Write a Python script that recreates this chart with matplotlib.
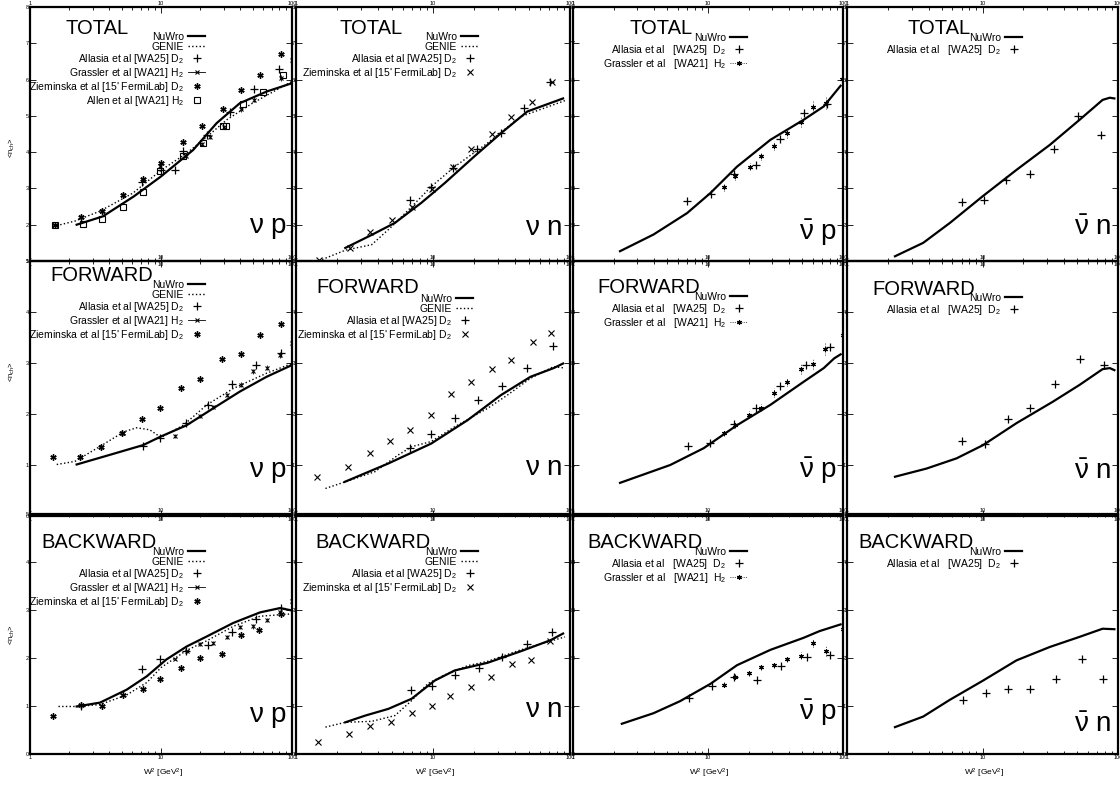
import matplotlib.pyplot as plt
from matplotlib.lines import Line2D
from matplotlib.ticker import NullFormatter

plt.rcParams['font.family'] = ['Liberation Sans Narrow', 'Liberation Sans', 'DejaVu Sans']
plt.rcParams['mathtext.default'] = 'regular'

# ---------------- data (W^2 in GeV^2, <n_ch>) ----------------
# TOTAL, nu p
tvp_nuwro_w = [2.27, 3.6, 6.2, 10, 17.6, 26.6, 40, 64, 100]
tvp_nuwro_n = [2.0, 2.23, 2.78, 3.33, 4.06, 4.8, 5.35, 5.67, 5.9]
tvp_genie_w = [1.5, 2.2, 3.4, 6.1, 10, 15.7, 22, 32, 50, 100]
tvp_genie_n = [1.95, 2.1, 2.37, 2.87, 3.5, 3.97, 4.4, 4.9, 5.35, 5.95]
tvp_allasia_w = [7.1, 10, 12.8, 14.8, 22.4, 33.6, 51, 79]
tvp_allasia_n = [3.17, 3.51, 3.51, 4.02, 4.48, 5.1, 5.73, 6.28]
tvp_grassler_w = [2.45, 3.56, 5.15, 7.25, 9.9, 15.5, 20.4, 23.5, 30.5, 40.6, 51, 82, 100]
tvp_grassler_n = [2.2, 2.38, 2.83, 3.22, 3.62, 3.88, 4.22, 4.42, 4.7, 5.18, 5.45, 6.05, 6.55]
tvp_grassler_e = [0.04, 0.04, 0.04, 0.05, 0.05, 0.05, 0.05, 0.06, 0.06, 0.07, 0.07, 0.08, 0.12]
tvp_ziem_w = [1.55, 2.45, 3.56, 5.15, 7.25, 10, 14.7, 20.4, 29.5, 40.6, 57, 82]
tvp_ziem_n = [2.0, 2.22, 2.39, 2.83, 3.26, 3.7, 4.29, 4.71, 5.2, 5.7, 6.13, 6.71]
tvp_allen_w = [1.55, 2.52, 3.56, 5.15, 7.25, 9.9, 14.8, 20.8, 29.5, 31.5, 42.5, 60, 86]
tvp_allen_n = [1.98, 2.03, 2.16, 2.49, 2.9, 3.49, 3.88, 4.25, 4.73, 4.72, 5.33, 5.65, 6.13]

# TOTAL, nu n
tvn_nuwro_w = [2.29, 3.57, 5.27, 8.2, 12.2, 20, 31.3, 48.8, 89]
tvn_nuwro_n = [1.36, 1.72, 2.05, 2.6, 3.15, 3.88, 4.52, 5.12, 5.48]
tvn_genie_w = [1.55, 2.3, 3.57, 5.0, 7.0, 9.7, 14.4, 25, 43.7, 95]
tvn_genie_n = [1.04, 1.3, 1.45, 1.95, 2.5, 3.05, 3.6, 4.25, 4.98, 5.44]
tvn_allasia_w = [6.78, 9.7, 13.9, 21, 31.3, 46.3, 72]
tvn_allasia_n = [2.69, 3.05, 3.56, 4.09, 4.54, 5.21, 5.92]
tvn_ziem_w = [1.47, 2.49, 3.47, 5.0, 6.97, 9.85, 13.9, 19, 26.8, 37.3, 52.6, 74]
tvn_ziem_n = [1.04, 1.36, 1.8, 2.14, 2.49, 2.99, 3.6, 4.09, 4.5, 4.98, 5.37, 5.92]

# TOTAL, anti-nu p
tap_nuwro_w = [2.23, 3.95, 7.0, 10.4, 16.4, 29, 51, 72, 96]
tap_nuwro_n = [1.27, 1.73, 2.32, 2.87, 3.6, 4.34, 4.89, 5.26, 5.83]
tap_allasia_w = [7.0, 10.5, 15.5, 22.7, 34, 51.5, 76]
tap_allasia_n = [2.66, 2.85, 3.4, 3.65, 4.36, 5.07, 5.33]
tap_grassler_w = [13.2, 15.9, 20.6, 24.6, 30.7, 38.6, 49.1, 60, 75, 98]
tap_grassler_n = [3.03, 3.33, 3.6, 3.88, 4.18, 4.52, 4.84, 5.24, 5.35, 6.02]
tap_grassler_e = [0.1, 0.1, 0.1, 0.1, 0.12, 0.12, 0.14, 0.16, 0.16, 0.22]

# TOTAL, anti-nu n
tan_nuwro_w = [2.26, 3.65, 5.75, 10, 17.8, 31.4, 52, 77, 87, 94]
tan_nuwro_n = [1.13, 1.5, 2.05, 2.78, 3.51, 4.2, 4.89, 5.44, 5.5, 5.48]
tan_allasia_w = [7.1, 10.3, 15, 22.3, 33.5, 51, 75]
tan_allasia_n = [2.62, 2.67, 3.24, 3.4, 4.09, 5.0, 4.46]

# FORWARD, nu p
fvp_nuwro_w = [2.27, 4.08, 7.3, 10, 15.7, 25, 40, 64, 100]
fvp_nuwro_n = [1.01, 1.2, 1.39, 1.56, 1.78, 2.11, 2.44, 2.73, 2.96]
fvp_genie_w = [1.6, 2.2, 3.4, 5.2, 6.5, 8.2, 10, 14.8, 22.4, 35.6, 64, 100]
fvp_genie_n = [1.01, 1.07, 1.36, 1.65, 1.73, 1.69, 1.54, 1.78, 2.18, 2.5, 2.8, 2.99]
fvp_allasia_w = [7.25, 9.8, 15.4, 23, 35, 53, 82]
fvp_allasia_n = [1.38, 1.52, 1.82, 2.18, 2.58, 2.96, 3.19]
fvp_grassler_w = [2.4, 3.5, 5.1, 12.8, 19.8, 25, 31.8, 40.6, 50.6, 64, 81, 100]
fvp_grassler_n = [1.16, 1.36, 1.62, 1.57, 1.96, 2.14, 2.37, 2.57, 2.84, 2.91, 3.16, 3.39]
fvp_grassler_e = [0.03, 0.03, 0.03, 0.04, 0.04, 0.04, 0.04, 0.05, 0.05, 0.05, 0.06, 0.1]
fvp_ziem_w = [1.5, 2.4, 3.5, 5.0, 7.1, 9.8, 14.1, 19.8, 29, 40.6, 57, 82]
fvp_ziem_n = [1.16, 1.16, 1.36, 1.62, 1.91, 2.12, 2.5, 2.68, 3.08, 3.18, 3.54, 3.76]

# FORWARD, nu n
fvn_nuwro_w = [2.27, 4.72, 9.7, 17.9, 31.3, 51.5, 76, 89]
fvn_nuwro_n = [0.67, 1.03, 1.42, 1.88, 2.37, 2.73, 2.9, 2.99]
fvn_genie_w = [1.64, 2.29, 3.78, 5.6, 7.0, 9.7, 14.4, 25, 34.9, 51.5, 76, 92]
fvn_genie_n = [0.54, 0.67, 0.87, 1.2, 1.36, 1.46, 1.75, 2.11, 2.37, 2.7, 2.93, 2.9]
fvn_allasia_w = [6.78, 9.7, 14.4, 21.2, 31.8, 48.3, 75]
fvn_allasia_n = [1.33, 1.61, 1.93, 2.27, 2.54, 2.9, 3.34]
fvn_ziem_w = [1.43, 2.39, 3.44, 4.86, 6.78, 9.7, 13.6, 19, 26.8, 37.3, 53.4, 73.1]
fvn_ziem_n = [0.77, 0.96, 1.23, 1.48, 1.69, 1.99, 2.39, 2.62, 2.88, 3.06, 3.41, 3.59]

# FORWARD, anti-nu p
fap_nuwro_w = [2.23, 5.25, 9.3, 16.4, 29, 51, 72, 86, 96]
fap_nuwro_n = [0.65, 1.0, 1.33, 1.78, 2.18, 2.63, 2.9, 3.09, 3.17]
fap_allasia_w = [7.1, 10.4, 15.5, 22.7, 34, 53, 80]
fap_allasia_n = [1.37, 1.44, 1.8, 2.12, 2.54, 2.96, 3.31]
fap_grassler_w = [13.2, 15.9, 20, 24.6, 30.7, 38.6, 48.5, 60, 74, 100]
fap_grassler_n = [1.63, 1.78, 1.99, 2.12, 2.42, 2.63, 2.88, 2.99, 3.27, 3.54]
fap_grassler_e = [0.06, 0.06, 0.07, 0.07, 0.08, 0.08, 0.1, 0.1, 0.12, 0.15]

# FORWARD, anti-nu n
fan_nuwro_w = [2.26, 3.86, 6.43, 10.1, 17.8, 33, 52, 77, 87, 94]
fan_nuwro_n = [0.77, 0.93, 1.13, 1.39, 1.82, 2.24, 2.57, 2.88, 2.9, 2.86]
fan_allasia_w = [7.1, 10.5, 15.5, 22.5, 34, 52.6, 79]
fan_allasia_n = [1.48, 1.42, 1.9, 2.11, 2.59, 3.08, 2.97]

# BACKWARD, nu p
bvp_nuwro_w = [2.27, 3.42, 5.47, 7.8, 11, 15.7, 22.4, 35.6, 57, 81, 100]
bvp_nuwro_n = [0.99, 1.07, 1.34, 1.62, 1.97, 2.24, 2.45, 2.73, 2.95, 3.04, 2.99]
bvp_genie_w = [1.65, 2.27, 3.42, 5.47, 7.8, 10, 15.7, 22.4, 35.6, 57, 100]
bvp_genie_n = [0.99, 0.99, 1.03, 1.23, 1.49, 1.8, 2.16, 2.36, 2.66, 2.87, 2.92]
bvp_allasia_w = [2.45, 7.1, 9.8, 15.5, 23, 35, 53, 82]
bvp_allasia_n = [1.01, 1.77, 1.97, 2.15, 2.27, 2.55, 2.81, 3.05]
bvp_grassler_w = [12.8, 15.7, 19.8, 25, 31.8, 40, 50, 64, 81, 100]
bvp_grassler_n = [1.98, 2.14, 2.29, 2.32, 2.43, 2.65, 2.66, 2.79, 2.95, 3.19]
bvp_grassler_e = [0.03, 0.03, 0.04, 0.04, 0.04, 0.04, 0.05, 0.05, 0.06, 0.1]
bvp_ziem_w = [1.5, 2.45, 3.52, 5.1, 7.25, 9.8, 14.3, 20, 29, 40.6, 56, 82]
bvp_ziem_n = [0.79, 1.02, 0.99, 1.23, 1.36, 1.56, 1.79, 2.0, 2.08, 2.48, 2.59, 2.92]

# BACKWARD, nu n
bvn_nuwro_w = [2.29, 3.2, 4.72, 6.97, 10.3, 14.4, 25, 43.7, 72, 89]
bvn_nuwro_n = [0.66, 0.8, 0.94, 1.15, 1.53, 1.74, 1.9, 2.14, 2.37, 2.51]
bvn_genie_w = [1.64, 2.29, 3.57, 5.27, 6.97, 9.2, 12.2, 17.9, 25, 43.7, 76, 92]
bvn_genie_n = [0.56, 0.66, 0.68, 0.8, 1.11, 1.47, 1.65, 1.84, 1.93, 2.17, 2.37, 2.44]
bvn_allasia_w = [6.9, 9.9, 14.4, 21.6, 31.7, 48.6, 74]
bvn_allasia_n = [1.33, 1.42, 1.65, 1.79, 2.03, 2.29, 2.55]
bvn_ziem_w = [1.45, 2.42, 3.48, 4.9, 6.97, 9.85, 13.4, 18.8, 26.5, 37.5, 51.6, 72]
bvn_ziem_n = [0.26, 0.42, 0.58, 0.67, 0.85, 1.0, 1.2, 1.4, 1.61, 1.88, 1.95, 2.35]

# BACKWARD, anti-nu p
bap_nuwro_w = [2.3, 3.95, 6.2, 10.4, 16.4, 29, 51, 67, 96]
bap_nuwro_n = [0.63, 0.85, 1.1, 1.46, 1.85, 2.17, 2.42, 2.56, 2.7]
bap_allasia_w = [7.25, 10.7, 15.7, 23, 34.7, 54.4, 80]
bap_allasia_n = [1.16, 1.42, 1.61, 1.55, 1.83, 2.02, 2.07]
bap_grassler_w = [13.2, 15.9, 20, 24.6, 30.7, 38.6, 49.1, 60, 75, 100]
bap_grassler_n = [1.44, 1.61, 1.69, 1.81, 1.85, 1.98, 2.05, 2.31, 2.14, 2.61]
bap_grassler_e = [0.05, 0.05, 0.06, 0.06, 0.06, 0.07, 0.07, 0.09, 0.1, 0.12]

# BACKWARD, anti-nu n
ban_nuwro_w = [2.26, 3.65, 5.75, 10.1, 17.8, 31.4, 52, 77, 94]
ban_nuwro_n = [0.56, 0.78, 1.13, 1.53, 1.95, 2.23, 2.44, 2.61, 2.6]
ban_allasia_w = [7.2, 10.6, 15.5, 22.5, 34.8, 54, 77]
ban_allasia_n = [1.13, 1.27, 1.35, 1.36, 1.57, 1.98, 1.57]

row_titles = ['TOTAL', 'FORWARD', 'BACKWARD']
row_ylims = [(1, 8), (0, 5), (0, 5)]
col_tags = [r'$\nu$ p', r'$\nu$ n', r'$\bar{\nu}$ p', r'$\bar{\nu}$ n']

# ---------------- layout (pixels) ----------------
W, H = 1120, 785
col_px = [(30, 292), (296, 570), (573, 843), (847, 1118)]
row_px = [(7, 261), (261, 516), (514, 754)]
title_px = [[(65, 28), (340, 28), (630, 28), (907, 28)],
            [(50, 276), (316, 288), (597, 288), (872, 290)],
            [(41, 542), (315, 542), (587, 542), (858, 542)]]
tag_px = [[(287, 233), (562, 235), (837, 240), (1111, 235)],
          [(287, 477), (562, 475), (837, 478), (1111, 479)],
          [(287, 722), (562, 717), (837, 720), (1111, 732)]]
leg_px = [[(205, 38), (478, 38), (747, 39), (1022, 39)],
          [(205, 286), (473, 300), (747, 298), (1022, 299)],
          [(205, 553), (478, 553), (747, 553), (1022, 553)]]

lab_all = 'Allasia et al [WA25] D$_2$'
lab_gra = 'Grassler et al [WA21] H$_2$'
lab_zie = "Zieminska et al [15' FermiLab] D$_2$"
lab_alen = 'Allen et al [WA21] H$_2$'
lab_all_b = 'Allasia et al   [WA25]  D$_2$'
lab_gra_b = 'Grassler et al   [WA21]  H$_2$'

panels = {
    (0, 0): [('nuwro', tvp_nuwro_w, tvp_nuwro_n), ('genie', tvp_genie_w, tvp_genie_n),
             ('allasia', tvp_allasia_w, tvp_allasia_n),
             ('grassler', tvp_grassler_w, tvp_grassler_n, tvp_grassler_e),
             ('ziem_star', tvp_ziem_w, tvp_ziem_n), ('allen', tvp_allen_w, tvp_allen_n)],
    (0, 1): [('nuwro', tvn_nuwro_w, tvn_nuwro_n), ('genie', tvn_genie_w, tvn_genie_n),
             ('allasia', tvn_allasia_w, tvn_allasia_n), ('ziem_x', tvn_ziem_w, tvn_ziem_n)],
    (0, 2): [('nuwro', tap_nuwro_w, tap_nuwro_n), ('allasia_b', tap_allasia_w, tap_allasia_n),
             ('grassler_b', tap_grassler_w, tap_grassler_n, tap_grassler_e)],
    (0, 3): [('nuwro', tan_nuwro_w, tan_nuwro_n), ('allasia_b', tan_allasia_w, tan_allasia_n)],
    (1, 0): [('nuwro', fvp_nuwro_w, fvp_nuwro_n), ('genie', fvp_genie_w, fvp_genie_n),
             ('allasia', fvp_allasia_w, fvp_allasia_n),
             ('grassler', fvp_grassler_w, fvp_grassler_n, fvp_grassler_e),
             ('ziem_star', fvp_ziem_w, fvp_ziem_n)],
    (1, 1): [('nuwro', fvn_nuwro_w, fvn_nuwro_n), ('genie', fvn_genie_w, fvn_genie_n),
             ('allasia', fvn_allasia_w, fvn_allasia_n), ('ziem_x', fvn_ziem_w, fvn_ziem_n)],
    (1, 2): [('nuwro', fap_nuwro_w, fap_nuwro_n), ('allasia_b', fap_allasia_w, fap_allasia_n),
             ('grassler_b', fap_grassler_w, fap_grassler_n, fap_grassler_e)],
    (1, 3): [('nuwro', fan_nuwro_w, fan_nuwro_n), ('allasia_b', fan_allasia_w, fan_allasia_n)],
    (2, 0): [('nuwro', bvp_nuwro_w, bvp_nuwro_n), ('genie', bvp_genie_w, bvp_genie_n),
             ('allasia', bvp_allasia_w, bvp_allasia_n),
             ('grassler', bvp_grassler_w, bvp_grassler_n, bvp_grassler_e),
             ('ziem_star', bvp_ziem_w, bvp_ziem_n)],
    (2, 1): [('nuwro', bvn_nuwro_w, bvn_nuwro_n), ('genie', bvn_genie_w, bvn_genie_n),
             ('allasia', bvn_allasia_w, bvn_allasia_n), ('ziem_x', bvn_ziem_w, bvn_ziem_n)],
    (2, 2): [('nuwro', bap_nuwro_w, bap_nuwro_n), ('allasia_b', bap_allasia_w, bap_allasia_n),
             ('grassler_b', bap_grassler_w, bap_grassler_n, bap_grassler_e)],
    (2, 3): [('nuwro', ban_nuwro_w, ban_nuwro_n), ('allasia_b', ban_allasia_w, ban_allasia_n)],
}

fig = plt.figure(figsize=(W / 100, H / 100), dpi=100)
fig.patch.set_facecolor('white')


def draw_series(ax, s):
    kind, w, n = s[0], s[1], s[2]
    if kind == 'nuwro':
        h, = ax.plot(w, n, 'k-', lw=1.6)
        return h, 'NuWro'
    if kind == 'genie':
        h, = ax.plot(w, n, 'k:', lw=1.0)
        return h, 'GENIE'
    if kind in ('allasia', 'allasia_b'):
        h, = ax.plot(w, n, ls='none', marker='+', ms=6, mew=0.9, color='k')
        return h, lab_all if kind == 'allasia' else lab_all_b
    if kind == 'grassler':
        ax.errorbar(w, n, yerr=s[3], fmt='none', ecolor='k', elinewidth=0.6)
        ax.plot(w, n, ls='none', marker='x', ms=3, mew=0.8, color='k')
        h = Line2D([], [], color='k', lw=0.6, marker='x', ms=3, mew=0.8)
        return h, lab_gra
    if kind == 'grassler_b':
        eb = ax.errorbar(w, n, yerr=s[3], fmt='none', ecolor='k', elinewidth=0.6)
        eb[2][0].set_linestyle(':')
        ax.plot(w, n, ls='none', marker=(6, 2, 0), ms=3.5, mew=0.8, color='k')
        h = Line2D([], [], color='k', lw=0.6, ls=':', marker=(6, 2, 0), ms=3.5, mew=0.8)
        return h, lab_gra_b
    if kind == 'ziem_star':
        h, = ax.plot(w, n, ls='none', marker=(6, 2, 0), ms=4.5, mew=1.0, color='k')
        return h, lab_zie
    if kind == 'ziem_x':
        h, = ax.plot(w, n, ls='none', marker='x', ms=4.5, mew=0.8, color='k')
        return h, lab_zie
    if kind == 'allen':
        h, = ax.plot(w, n, ls='none', marker='s', ms=4.5, mew=0.8, mfc='none', color='k')
        return h, lab_alen


for r in range(3):
    for c in range(4):
        x0, x1 = col_px[c]
        y0, y1 = row_px[r]
        ax = fig.add_axes([x0 / W, 1 - y1 / H, (x1 - x0) / W, (y1 - y0) / H])
        ax.set_facecolor('none')
        ax.set_xscale('log')
        ax.set_xlim(1, 100)
        lo, hi = row_ylims[r]
        ax.set_ylim(lo, hi)
        ax.set_yticks(range(lo, hi + 1))
        ax.set_yticklabels([str(v) for v in range(lo, hi + 1)])
        ax.set_xticks([1, 10, 100])
        ax.set_xticklabels(['1', '10', '100'])
        ax.xaxis.set_minor_formatter(NullFormatter())
        ax.tick_params(which='both', direction='in', top=True, right=True,
                       labeltop=True, labelright=True, labelsize=4, pad=1, width=0.6)
        ax.tick_params(which='major', length=4)
        ax.tick_params(which='minor', length=2)
        for sp in ax.spines.values():
            sp.set_linewidth(1.6)

        handles, labels = [], []
        for s in panels[(r, c)]:
            h, lab = draw_series(ax, s)
            handles.append(h)
            labels.append(lab)

        lx, ly = leg_px[r][c]
        ax.legend(handles, labels, loc='upper right', bbox_to_anchor=(lx / W, 1 - (ly - 6) / H),
                  bbox_transform=fig.transFigure, frameon=False, markerfirst=False,
                  fontsize=7.5, labelspacing=0.0, handlelength=1.6, handletextpad=0.4,
                  borderpad=0, borderaxespad=0)

        tx, ty = title_px[r][c]
        fig.text(tx / W, 1 - ty / H, row_titles[r], fontsize=14.5, ha='left', va='center')
        gx, gy = tag_px[r][c]
        fig.text(gx / W, 1 - gy / H, col_tags[c], fontsize=20, ha='right', va='baseline')

# axis labels
for yc in [148, 372, 635]:
    fig.text(12 / W, 1 - yc / H, '<n$_{ch}$>', rotation=90, fontsize=5.5, ha='center', va='center')
for xc in [163, 435, 709, 984]:
    fig.text(xc / W, 1 - 773 / H, 'W$^2$ [GeV$^2$]', fontsize=6, ha='center', va='center')

fig.savefig('out.png', dpi=100)
